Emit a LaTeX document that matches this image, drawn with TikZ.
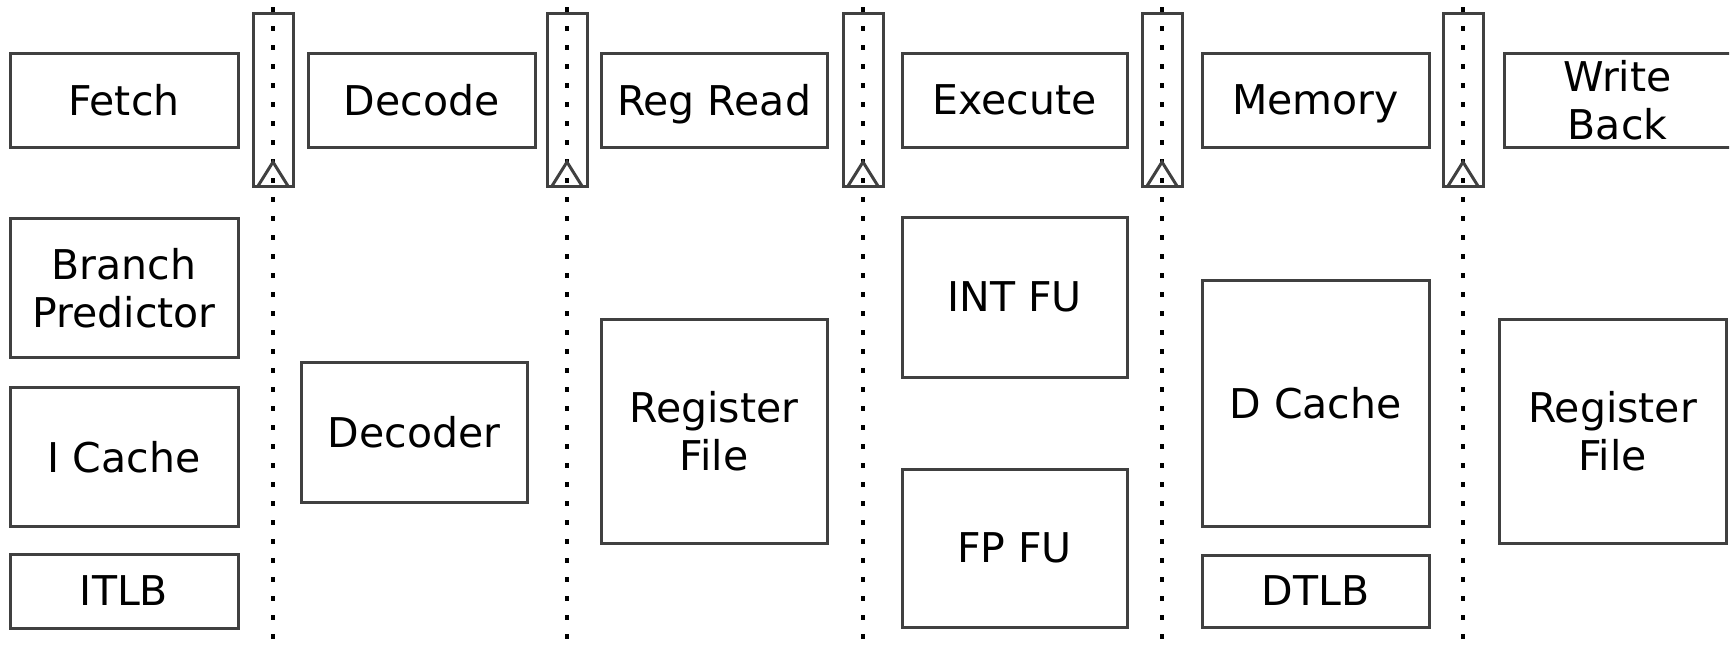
\documentclass[tikz,border=0pt]{standalone}
\usepackage{fontspec}
\setmainfont{DejaVu Sans}
\definecolor{boxgray}{HTML}{404040}
\begin{document}
\begin{tikzpicture}[x=1pt,y=-1pt,
  box/.style={draw=boxgray, line width=3pt, rectangle, inner sep=0pt, outer sep=0pt,
    align=center, text depth=0pt, font=\fontsize{41}{48}\selectfont},
  pipereg/.style={draw=boxgray, line width=3pt, rectangle, inner sep=0pt, outer sep=0pt,
    minimum width=40, minimum height=173},
  dotline/.style={black, line width=3.5pt, dash pattern=on 5pt off 14pt, dash phase=-7pt},
  clk/.style={draw=boxgray, line width=3pt, line join=miter}]
\useasboundingbox (0,0) rectangle (1733,649);
\begin{scope}
\clip (0,0) rectangle (1729,649);
% pipeline stage boxes
\node[box, minimum width=228, minimum height=94] (fetch) at (124,100) {Fetch};
\node[box, minimum width=227, minimum height=94] (decode) at (421.5,100) {Decode};
\node[box, minimum width=226, minimum height=94] (regread) at (714,100) {Reg Read};
\node[box, minimum width=225, minimum height=94] (execute) at (1014.5,100) {Execute};
\node[box, minimum width=227, minimum height=94] (memory) at (1315.5,100) {Memory};
\node[box, minimum width=227, minimum height=94] (writeback) at (1617.5,100) {Write\\Back};
% units
\node[box, minimum width=228, minimum height=139] (bp) at (124,287.5) {Branch\\Predictor};
\node[box, minimum width=228, minimum height=139] (icache) at (124,456.5) {I Cache};
\node[box, minimum width=228, minimum height=74] (itlb) at (124,591) {ITLB};
\node[box, minimum width=226, minimum height=140] (decoder) at (414,432) {Decoder};
\node[box, minimum width=226, minimum height=224] (rf1) at (714,431) {Register\\File};
\node[box, minimum width=225, minimum height=160] (intfu) at (1014.5,297) {INT FU};
\node[box, minimum width=225, minimum height=158] (fpfu) at (1014.5,548) {FP FU};
\node[box, minimum width=227, minimum height=246] (dcache) at (1315.5,403) {D Cache};
\node[box, minimum width=227, minimum height=72] (dtlb) at (1315.5,591) {DTLB};
\node[box, minimum width=227, minimum height=224] (rf2) at (1612.5,431) {Register\\File};
% pipeline registers, clock marks and dotted lines
\foreach \i/\x in {1/273,2/567,3/863,4/1162,5/1463}{
  \coordinate (t\i) at (\x,0);
  \coordinate (b\i) at (\x,649);
  \draw[dotline] (t\i) -- (b\i);
  \node[pipereg] (reg\i) at (\x,99.5) {};
  \draw[clk] (reg\i.south) ++(-15,0) -- ++(15,-24) -- ++(15,24);
}
\end{scope}
\end{tikzpicture}
\end{document}
